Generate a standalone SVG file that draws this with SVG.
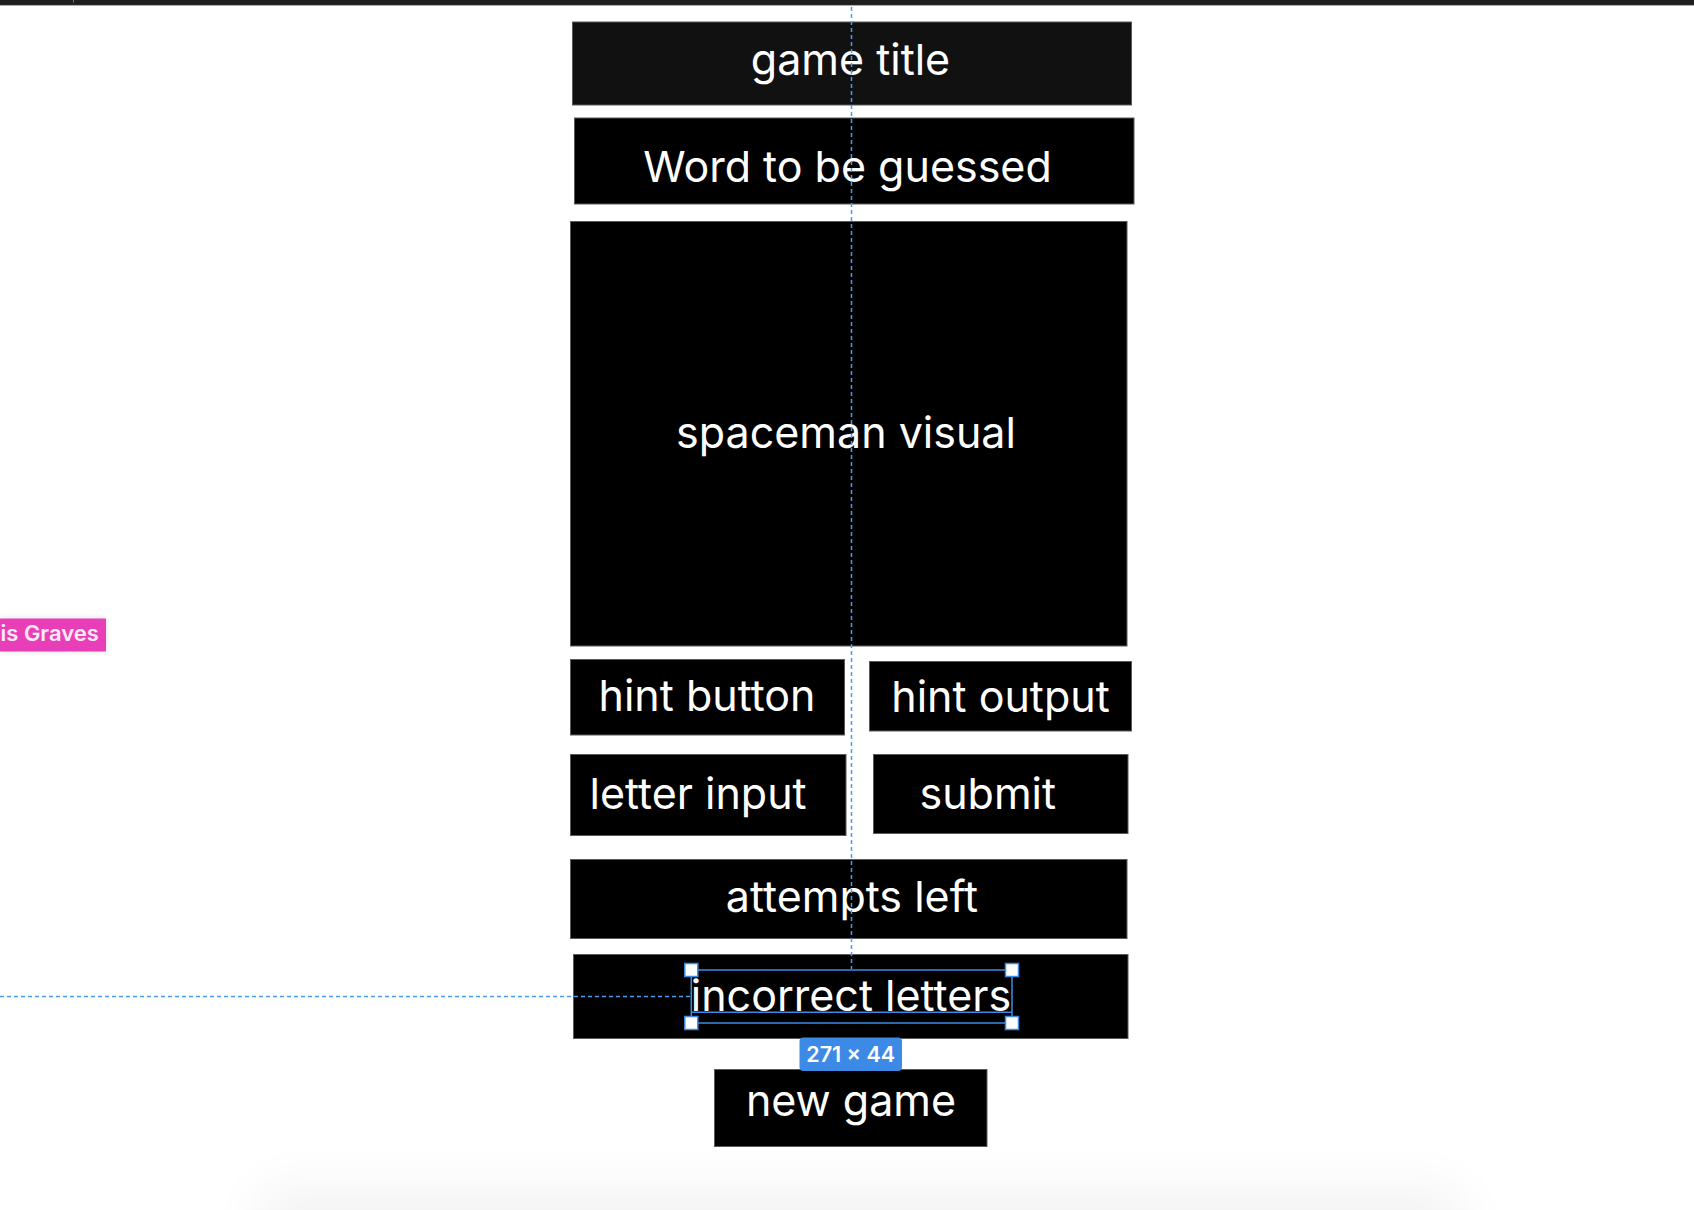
<svg xmlns="http://www.w3.org/2000/svg" width="1694" height="1210" viewBox="0 0 1694 1210">
<style>
.box{fill:#000;stroke:#5a5a5a;stroke-width:1}
.lbl{font-family:Inter,"Liberation Sans",sans-serif;font-size:43px;fill:#fff}
.mid{text-anchor:middle}
.guide{stroke:#4a9cf0;stroke-width:1.5;stroke-dasharray:4 3;fill:none}
.sel{stroke:#3d8ae6;stroke-width:1.5;fill:none}
.handle{fill:#fff;stroke:#3d8ae6;stroke-width:1.5}
</style>
<defs>
<filter id="blur" x="-20%" y="-50%" width="140%" height="200%"><feGaussianBlur stdDeviation="28"/></filter>
<filter id="sh" x="-20%" y="-50%" width="140%" height="200%"><feGaussianBlur stdDeviation="3"/></filter>
</defs>
<rect width="1694" height="1210" fill="#fff"/>
<rect x="260" y="1190" width="1200" height="130" fill="#000" opacity="0.05" filter="url(#blur)"/>
<rect x="0" y="0" width="1694" height="5" fill="#1e1e1e"/>
<line x1="0" y1="5.4" x2="1694" y2="5.4" stroke="#8a8a8a" stroke-width="0.8"/>
<line x1="73.5" y1="0" x2="73.5" y2="2.5" stroke="#777" stroke-width="1"/>

<g id="game-title"><rect class="box" x="572.5" y="22" width="559" height="83" style="fill:#111"/><text class="lbl mid" x="850.5" y="75">game title</text></g>
<g id="word"><rect class="box" x="574.5" y="118" width="559.5" height="86"/><text class="lbl mid" x="847.5" y="181.5">Word to be guessed</text></g>
<g id="spaceman"><rect class="box" x="570.5" y="221.5" width="556.5" height="424.5"/><text class="lbl mid" x="846" y="447.5">spaceman visual</text></g>
<g id="hint-button"><rect class="box" x="570.5" y="659.5" width="274" height="75.5"/><text class="lbl mid" x="707" y="711">hint button</text></g>
<g id="hint-output"><rect class="box" x="869.5" y="661.5" width="262" height="69.5"/><text class="lbl mid" x="1000.5" y="711.5">hint output</text></g>
<g id="letter-input"><rect class="box" x="570.5" y="754.5" width="275.5" height="81"/><text class="lbl" x="589.5" y="808.5">letter input</text></g>
<g id="submit"><rect class="box" x="873.5" y="754.5" width="254.5" height="79"/><text class="lbl" x="919.5" y="808.5">submit</text></g>
<g id="attempts"><rect class="box" x="570.5" y="859.5" width="556.5" height="79"/><text class="lbl mid" x="852" y="912">attempts left</text></g>
<g id="incorrect"><rect class="box" x="573.5" y="954.5" width="554.5" height="84"/><text class="lbl mid" x="851" y="1010.5">incorrect letters</text></g>
<g id="new-game"><rect class="box" x="714.5" y="1069.5" width="272.5" height="77"/><text class="lbl mid" x="851" y="1115.5">new game</text></g>

<g id="connectors">
<line class="guide" x1="851.5" y1="7" x2="851.5" y2="969"/>
<line class="guide" x1="0" y1="996.5" x2="691" y2="996.5"/>
</g>

<g id="selection">
<rect class="sel" x="691.3" y="970" width="320.7" height="53"/>
<line class="sel" x1="691.3" y1="1012.3" x2="1012" y2="1012.3"/>
<rect class="handle" x="684.8" y="963.5" width="13" height="13"/>
<rect class="handle" x="1005.5" y="963.5" width="13" height="13"/>
<rect class="handle" x="684.8" y="1016.5" width="13" height="13"/>
<rect class="handle" x="1005.5" y="1016.5" width="13" height="13"/>
<rect x="799.5" y="1037.5" width="102.5" height="33.5" rx="4" fill="#3d8ae6"/>
<text x="850.7" y="1062" text-anchor="middle" font-family="Inter,'Liberation Sans',sans-serif" font-size="21.5" font-weight="600" fill="#fff">271 × 44</text>
</g>

<g id="user-tag">
<rect x="0" y="618.5" width="106" height="33" fill="#000" opacity="0.12" filter="url(#sh)"/>
<rect x="0" y="618.5" width="106" height="33" fill="#e83fb8"/>
<text x="0.5" y="641" font-family="Inter,'Liberation Sans',sans-serif" font-size="22" font-weight="600" fill="#fdeaf7">is Graves</text>
</g>
</svg>
